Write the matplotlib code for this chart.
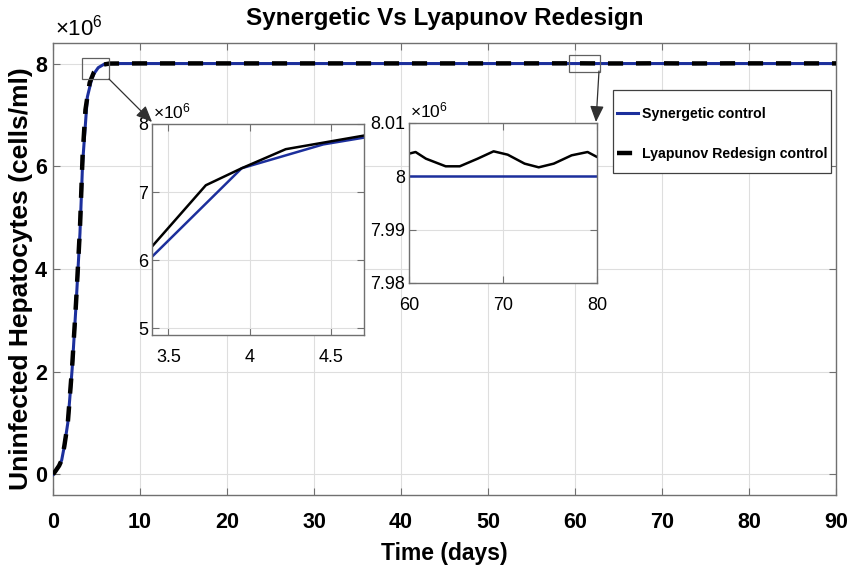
import matplotlib
matplotlib.use("Agg")
import matplotlib.pyplot as plt
from matplotlib.patches import Rectangle, FancyArrowPatch
from matplotlib.ticker import FuncFormatter, FixedLocator

# ---------------- data (cells/ml, in units of 1e6) ----------------
t_syn = [0, 0.3, 0.7, 1.0, 1.3, 1.7, 2.2, 2.65, 3.1, 3.4, 3.95, 4.45, 4.7,
         5.2, 5.8, 6.5, 10, 20, 30, 40, 50, 60, 70, 80, 90]
y_syn = [0, 0.07, 0.17, 0.28, 0.55, 1.0, 2.05, 3.3, 4.7, 6.05, 7.35, 7.70, 7.80,
         7.92, 7.98, 8.0, 8.0, 8.0, 8.0, 8.0, 8.0, 8.0, 8.0, 8.0, 8.0]

t_lyap = [0, 0.3, 0.7, 1.0, 1.3, 1.7, 2.2, 2.65, 3.1, 3.4, 3.73, 3.95, 4.22, 4.7,
          5.2, 5.8, 6.5, 10, 20, 30, 40, 50,
          60, 60.7, 61.8, 63.9, 65.4, 67.3, 69.0, 70.5, 72.3, 73.8, 75.4, 77.3, 79.0, 80,
          90]
y_lyap = [0, 0.07, 0.17, 0.28, 0.55, 1.0, 2.1, 3.35, 4.8, 6.2, 7.1, 7.35, 7.63, 7.83,
          7.93, 7.98, 8.0, 8.003, 8.003, 8.003, 8.003, 8.003,
          8.00425, 8.00456, 8.00331, 8.00188, 8.00188, 8.00331, 8.00469, 8.00406,
          8.00238, 8.00169, 8.00238, 8.00394, 8.00456, 8.00363,
          8.003]

labels = ["Synergetic control", "Lyapunov Redesign control"]
title = "Synergetic Vs Lyapunov Redesign"
xlabel = "Time (days)"
ylabel = "Uninfected Hepatocytes (cells/ml)"
main_xticks = [0, 10, 20, 30, 40, 50, 60, 70, 80, 90]
main_yticks = [0, 2, 4, 6, 8]
in1_xticks = [3.5, 4, 4.5]
in1_yticks = [5, 6, 7, 8]
in2_xticks = [60, 70, 80]
in2_yticks = [7.98, 7.99, 8.0, 8.01]

# ---------------- style ----------------
FONT = "Liberation Sans"
plt.rcParams['font.family'] = [FONT, "DejaVu Sans"]
plt.rcParams['mathtext.fontset'] = 'custom'
plt.rcParams['mathtext.rm'] = FONT
plt.rcParams['mathtext.it'] = FONT

BLUE = "#1c2f9c"
SPINE = "#707070"
GRID = "#dedede"
W, H = 861, 577

fig = plt.figure(figsize=(W / 100, H / 100), dpi=100)

def frac(x0, y0, x1, y1):
    return [x0 / W, 1 - y1 / H, (x1 - x0) / W, (y1 - y0) / H]

def style_axes(ax, lsize, bold):
    for s in ax.spines.values():
        s.set_color(SPINE)
        s.set_linewidth(1.0)
    ax.grid(True, color=GRID, linewidth=0.8)
    ax.set_axisbelow(True)
    ax.tick_params(direction='in', top=True, right=True, color=SPINE,
                   length=5, width=0.8, labelsize=lsize, labelcolor='black')
    if bold:
        for lab in ax.get_xticklabels() + ax.get_yticklabels():
            lab.set_fontweight('bold')

fmt = FuncFormatter(lambda v, p: "%g" % round(v, 4))

# ---------------- main axes ----------------
ax = fig.add_axes(frac(53, 43, 836, 495))
ax.plot(t_syn, y_syn, color=BLUE, lw=2.2, label=labels[0], zorder=3)
ax.plot(t_lyap, y_lyap, color='black', lw=3.2, dashes=(3.4, 2.9),
        label=labels[1], zorder=4)
ax.set_xlim(0, 90)
ax.set_ylim(-0.4, 8.4)
ax.xaxis.set_major_locator(FixedLocator(main_xticks))
ax.yaxis.set_major_locator(FixedLocator(main_yticks))
ax.xaxis.set_major_formatter(fmt)
ax.yaxis.set_major_formatter(fmt)
style_axes(ax, 15.5, True)
ax.tick_params(axis='x', pad=12)
ax.tick_params(axis='y', pad=4.5)
ax.set_xlabel(xlabel, fontsize=16.5, fontweight='bold', labelpad=7)
ax.set_ylabel(ylabel, fontsize=19, fontweight='bold')
ax.yaxis.set_label_coords(-0.0255, 0.478)
fig.text(55 / W, 1 - 28 / H, r"$\times\mathregular{10^{6}}$", fontsize=16,
         ha='left', va='center')
fig.text(444.5 / W, 1 - 19 / H, title, fontsize=17.5, fontweight='bold',
         ha='center', va='center')

# zoom boxes
ax.add_patch(Rectangle((3.3, 7.69), 3.17, 0.42, fill=False, ec='#606060', lw=0.9, zorder=5))
ax.add_patch(Rectangle((59.3, 7.84), 3.6, 0.32, fill=False, ec='#606060', lw=0.9, zorder=5))

# legend (frame drawn as a separate rectangle behind it)
leg = ax.legend(loc='upper left', bbox_to_anchor=(617 / W, 1 - 107 / H),
                bbox_transform=fig.transFigure,
                prop={'weight': 'bold', 'size': 10.2}, frameon=False,
                handlelength=1.5, handletextpad=0.25, labelspacing=1.82,
                borderpad=0, borderaxespad=0)
leg.set_zorder(10)
ax.add_patch(Rectangle((613 / W, 1 - 173 / H), 218 / W, 83 / H,
                       transform=fig.transFigure, fc='white', ec='#404040',
                       lw=0.9, zorder=9, clip_on=False))

# ---------------- inset 1 ----------------
a1 = fig.add_axes(frac(152, 124, 364, 335))
a1.plot(t_syn, y_syn, color=BLUE, lw=1.8)
a1.plot(t_lyap, y_lyap, color='black', lw=1.8)
a1.set_xlim(3.4, 4.7)
a1.set_ylim(4.9, 8.0)
a1.xaxis.set_major_locator(FixedLocator(in1_xticks))
a1.yaxis.set_major_locator(FixedLocator(in1_yticks))
a1.xaxis.set_major_formatter(fmt)
a1.yaxis.set_major_formatter(fmt)
style_axes(a1, 13, False)
a1.tick_params(axis='x', pad=10)
a1.tick_params(axis='y', pad=3)
fig.text(153 / W, 1 - 111 / H, r"$\times\mathregular{10^{6}}$", fontsize=12.5,
         ha='left', va='center')

# ---------------- inset 2 ----------------
a2 = fig.add_axes(frac(409, 123, 597, 283))
a2.plot(t_syn, y_syn, color=BLUE, lw=1.8)
a2.plot(t_lyap, y_lyap, color='black', lw=1.8)
a2.set_xlim(60, 80)
a2.set_ylim(7.98, 8.01)
a2.xaxis.set_major_locator(FixedLocator(in2_xticks))
a2.yaxis.set_major_locator(FixedLocator(in2_yticks))
a2.xaxis.set_major_formatter(fmt)
a2.yaxis.set_major_formatter(fmt)
style_axes(a2, 13, False)
a2.tick_params(axis='x', pad=10)
a2.tick_params(axis='y', pad=3)
fig.text(410 / W, 1 - 110 / H, r"$\times\mathregular{10^{6}}$", fontsize=12.5,
         ha='left', va='center')

# ---------------- connecting arrows ----------------
arrow_kw = dict(arrowstyle='-|>,head_length=0.7,head_width=0.3', color='#303030',
                lw=0.9, shrinkA=0, shrinkB=0)
fig.add_artist(FancyArrowPatch(
    (109 / W, 1 - 79 / H), (152 / W, 1 - 122 / H), transform=fig.transFigure,
    mutation_scale=14, **arrow_kw))
fig.add_artist(FancyArrowPatch(
    (599 / W, 1 - 71 / H), (596 / W, 1 - 122 / H), transform=fig.transFigure,
    mutation_scale=14, **arrow_kw))

fig.savefig("out.png", dpi=100)
